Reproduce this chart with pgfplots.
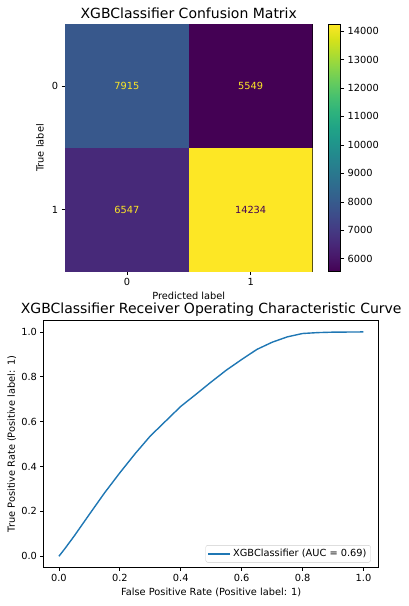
\documentclass[border=0pt]{standalone}
\usepackage{fontspec}
\setmainfont{DejaVu Sans}
\usepackage{pgfplots}
\pgfplotsset{compat=1.18}
\definecolor{mplblue}{HTML}{1F77B4}
\definecolor{vyellow}{HTML}{FDE725}
\definecolor{vpurple}{HTML}{440154}
\pgfplotsset{
  mplstyle/.style={
    scale only axis,
    /pgf/number format/assume math mode=true,
    tick label style={font=\fontsize{9.8}{11}\selectfont, black},
    label style={font=\fontsize{9.8}{11}\selectfont},
    title style={font=\fontsize{14}{16}\selectfont},
    tick align=outside,
    major tick length=3.3pt,
    every tick/.style={black, line width=0.75pt},
    axis line style={line width=0.75pt},
    xtick pos=lower, ytick pos=left,
  }
}
\begin{document}
\begin{tikzpicture}
\path[use as bounding box] (0pt,0pt) rectangle (409pt,-606pt);
% ---- confusion matrix ----
\begin{axis}[mplstyle,
  at={(65pt,-271.7pt)}, anchor=south west,
  width=247.5pt, height=247.4pt,
  xmin=-0.5, xmax=1.5, ymin=-0.5, ymax=1.5,
  y dir=reverse,
  xtick={0,1}, ytick={0,1},
  colormap name=viridis,
  point meta min=5549, point meta max=14234,
  title={XGBClassifier Confusion Matrix},
  title style={at={(axis description cs:0.5,1)}, anchor=center, yshift=5.3pt},
  xlabel={Predicted label},
  xlabel style={at={(axis description cs:0.5,0)}, anchor=center, yshift=-24.5pt},
  ylabel={True label},
  ylabel style={at={(axis description cs:-0.101,0.5)}, anchor=center},
  colorbar,
  colorbar style={
    at={(1.066,1)}, anchor=north west,
    width=12pt, height=247.4pt, scale only axis,
    ytick={6000,7000,...,14000},
    scaled y ticks=false,
    /pgf/number format/1000 sep={},
    /pgf/number format/assume math mode=true,
    yticklabel style={font=\fontsize{9.8}{11}\selectfont, black},
    tick align=outside, major tick length=3.3pt,
    every tick/.style={black, line width=0.75pt},
    axis line style={line width=0.75pt},
    ytick pos=right,
  },
]
\addplot[matrix plot*, mesh/cols=2, point meta=explicit] table[meta=c] {
x y c
0 0 7915
1 0 5549
0 1 6547
1 1 14234
};
\addplot[only marks, mark=none, nodes near coords, point meta=explicit symbolic,
  nodes near coords align=center,
  every node near coord/.style={font=\fontsize{9.8}{11}\selectfont, text=vyellow, anchor=center}]
  table[meta=c] {
x y c
0 0 7915
1 0 5549
0 1 6547
};
\addplot[only marks, mark=none, nodes near coords, point meta=explicit symbolic,
  nodes near coords align=center,
  every node near coord/.style={font=\fontsize{9.8}{11}\selectfont, text=vpurple, anchor=center}]
  table[meta=c] {
x y c
1 1 14234
};
\end{axis}
% ---- ROC curve ----
\begin{axis}[mplstyle,
  at={(43.7pt,-567.5pt)}, anchor=south west,
  width=335pt, height=246.8pt,
  xmin=-0.05, xmax=1.05, ymin=-0.05, ymax=1.05,
  xtick={0,0.2,...,1.0}, ytick={0,0.2,...,1.0},
  xticklabel style={/pgf/number format/fixed, /pgf/number format/fixed zerofill, /pgf/number format/precision=1},
  yticklabel style={/pgf/number format/fixed, /pgf/number format/fixed zerofill, /pgf/number format/precision=1},
  title={XGBClassifier Receiver Operating Characteristic Curve},
  title style={at={(axis description cs:0.5,1)}, anchor=center, yshift=5pt},
  xlabel={False Positive Rate (Positive label: 1)},
  xlabel style={at={(axis description cs:0.5,0)}, anchor=center, yshift=-25pt},
  ylabel={True Positive Rate (Positive label: 1)},
  ylabel style={at={(axis description cs:-0.0955,0.5)}, anchor=center},
  legend style={at={(axis description cs:1,0)}, anchor=south east, xshift=-8pt, yshift=5pt,
    draw=black!20, rounded corners=2pt, fill=white, fill opacity=0.8, text opacity=1,
    font=\fontsize{9.8}{11}\selectfont, inner sep=2pt},
  legend image code/.code={\draw[#1] (0pt,0pt) -- (22pt,0pt);},
  legend cell align=left,
]
\addplot[mplblue, line width=1.4pt] coordinates {
(0,0) (0.02,0.035) (0.05,0.09) (0.1,0.187) (0.15,0.283) (0.2,0.372)
(0.25,0.457) (0.3,0.536) (0.35,0.602) (0.4,0.668) (0.45,0.722)
(0.5,0.777) (0.55,0.83) (0.6,0.877) (0.65,0.922) (0.7,0.954) (0.75,0.978)
(0.8,0.993) (0.85,0.997) (0.9,0.999) (1.0,1.0)
};
\addlegendentry{XGBClassifier (AUC = 0.69)}
\end{axis}
\end{tikzpicture}
\end{document}
